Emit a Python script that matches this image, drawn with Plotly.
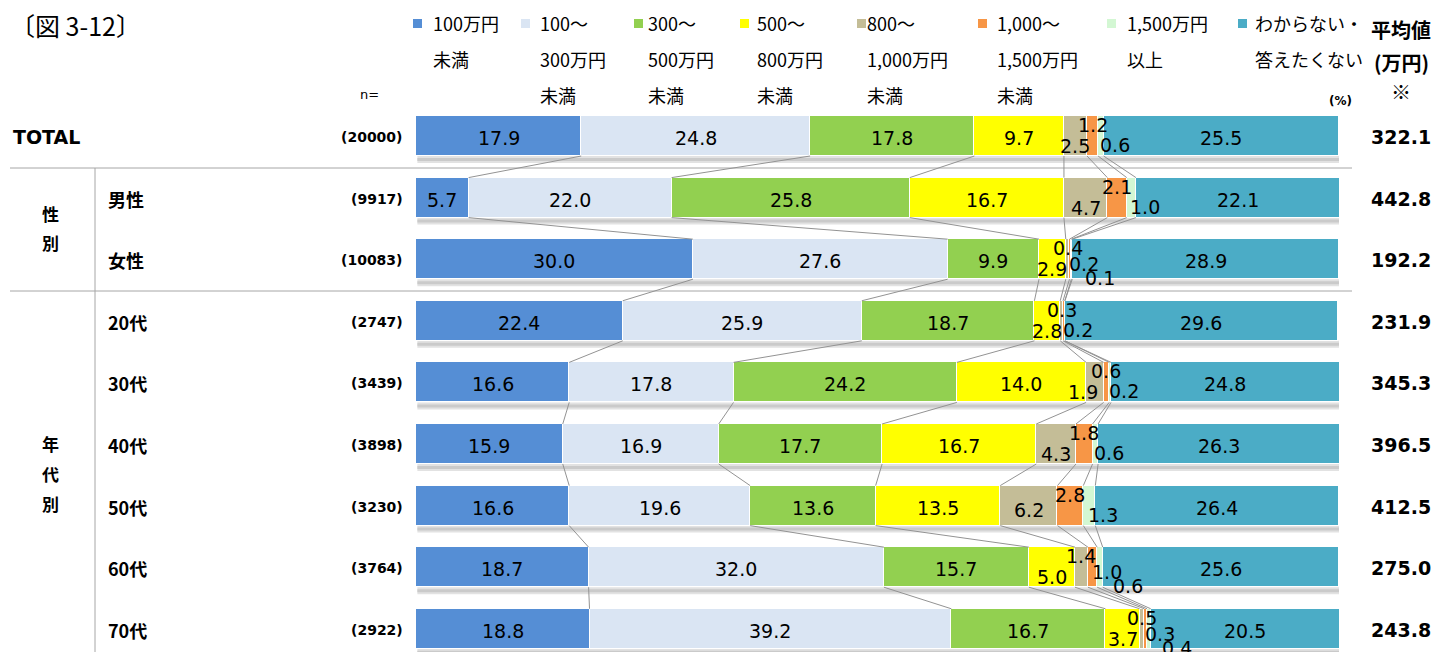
import plotly.graph_objects as go

W, H = 1434, 652

# ---- data -------------------------------------------------------------
ROWS = ["TOTAL", "男性", "女性", "20代", "30代", "40代", "50代", "60代", "70代"]
N_SIZES = ["(20000)", "(9917)", "(10083)", "(2747)", "(3439)", "(3898)",
           "(3230)", "(3764)", "(2922)"]
MEANS = ["322.1", "442.8", "192.2", "231.9", "345.3", "396.5", "412.5",
         "275.0", "243.8"]

BANDS = ["100万円未満", "100～300万円未満", "300～500万円未満", "500～800万円未満",
         "800～1,000万円未満", "1,000～1,500万円未満", "1,500万円以上",
         "わからない・答えたくない"]
LEGEND_LINES = [["100万円", "未満"], ["100～", "300万円", "未満"],
                ["300～", "500万円", "未満"], ["500～", "800万円", "未満"],
                ["800～", "1,000万円", "未満"], ["1,000～", "1,500万円", "未満"],
                ["1,500万円", "以上"], ["わからない・", "答えたくない"]]

under_100 = [17.9, 5.7, 30.0, 22.4, 16.6, 15.9, 16.6, 18.7, 18.8]
from_100_300 = [24.8, 22.0, 27.6, 25.9, 17.8, 16.9, 19.6, 32.0, 39.2]
from_300_500 = [17.8, 25.8, 9.9, 18.7, 24.2, 17.7, 13.6, 15.7, 16.7]
from_500_800 = [9.7, 16.7, 2.9, 2.8, 14.0, 16.7, 13.5, 5.0, 3.7]
from_800_1000 = [2.5, 4.7, 0.4, 0.3, 1.9, 4.3, 6.2, 1.4, 0.5]
from_1000_1500 = [1.2, 2.1, 0.2, 0.2, 0.6, 1.8, 2.8, 1.0, 0.3]
over_1500 = [0.6, 1.0, 0.1, 0.0, 0.2, 0.6, 1.3, 0.6, 0.4]
no_answer = [25.5, 22.1, 28.9, 29.6, 24.8, 26.3, 26.4, 25.6, 20.5]

SERIES = [under_100, from_100_300, from_300_500, from_500_800,
          from_800_1000, from_1000_1500, over_1500, no_answer]
COLORS = ["#558ED5", "#DAE5F3", "#92D050", "#FFFF00", "#C4BD97",
          "#F79646", "#D3F7D3", "#4BACC6"]

# ---- geometry helpers ---------------------------------------------------
X0_PX, X1_PX = 416, 1339          # plot area left/right in pixels
ROW0_PX, ROW_STEP = 136.0, 61.6   # first bar centre and row pitch
BAR_W = 0.65
Y_TOP = -ROW0_PX / ROW_STEP
Y_BOT = Y_TOP + H / ROW_STEP


def px(x):
    return x / W


def py(y):
    return 1 - y / H


def row_px(i):
    return ROW0_PX + ROW_STEP * i


JP = "Noto Sans CJK JP"
NUM = "DejaVu Sans"


def label(x, y, text, font, xanchor="left"):
    """Text placed in pixel coordinates of the page."""
    return dict(x=px(x), y=py(y), xref="paper", yref="paper", text=text,
                xanchor=xanchor, yanchor="middle", showarrow=False, font=font)


fig = go.Figure()

rows_idx = list(range(len(ROWS)))

# soft drop shadow under each bar
shapes = []
for i in rows_idx:
    base = i + BAR_W / 2
    shapes.append(dict(type="rect", xref="x", yref="y", layer="below",
                       x0=0.15, x1=100.25, y0=base, y1=base + 7 / ROW_STEP,
                       fillcolor="#E2E2E2", line_width=0))
    shapes.append(dict(type="rect", xref="x", yref="y", layer="below",
                       x0=0.15, x1=100.25, y0=base + 2 / ROW_STEP,
                       y1=base + 5 / ROW_STEP,
                       fillcolor="#CACACA", line_width=0))

# stacked bars
for name, vals, col in zip(BANDS, SERIES, COLORS):
    fig.add_trace(go.Bar(
        y=rows_idx, x=vals, name=name, orientation="h", width=BAR_W,
        marker=dict(color=col, line=dict(color="white", width=1)),
        hoverinfo="x+name", showlegend=False))

# connector lines between adjacent bars at each cumulative boundary
cum = []
for i in rows_idx:
    s, c = 0.0, []
    for vals in SERIES[:-1]:
        s += vals[i]
        c.append(s)
    cum.append(c)

lx, ly = [], []
for i in rows_idx[:-1]:
    for k in range(len(SERIES) - 1):
        lx += [cum[i][k], cum[i + 1][k], None]
        ly += [i + BAR_W / 2, i + 1 - BAR_W / 2, None]
fig.add_trace(go.Scatter(x=lx, y=ly, mode="lines", hoverinfo="skip",
                         line=dict(color="#939393", width=1),
                         showlegend=False))

annotations = []

# value labels inside bars; thin segments get staggered labels
for i in rows_idx:
    start = 0.0
    small_order = [k for k in range(3, 7) if 0 < SERIES[k][i] < 7]
    has_four = len(small_order) >= 4
    for k, vals in enumerate(SERIES):
        v = vals[i]
        mid = start + v / 2
        start += v
        if v <= 0:
            continue
        dy, dx = 2, 0
        if k in small_order:
            o = small_order.index(k)
            if o == 0:
                dy = 4 if v >= 6 else 10
                dx = -12 if v < 2.2 else 0
            elif o == 1:
                dy = -11
            elif o == 2:
                dy = 5 if has_four else 9
                dx = 14
            else:
                dy = 19
                dx = 28
        annotations.append(dict(
            x=mid, y=i, xref="x", yref="y", text=f"{v:.1f}",
            xanchor="center", yanchor="middle",
            showarrow=False, xshift=dx, yshift=-dy,
            font=dict(family=NUM, size=19, color="black")))

# row labels, sample sizes and means
for i, (lab, n, m) in enumerate(zip(ROWS, N_SIZES, MEANS)):
    y = row_px(i) + 1
    if i == 0:
        annotations.append(label(11, y, lab, dict(family=NUM, size=19,
                                                   color="black",
                                                   weight="bold")))
    else:
        annotations.append(label(106, y, lab, dict(family=JP, size=18,
                                                    color="black",
                                                    weight="bold")))
    annotations.append(label(405, y, n, dict(family=NUM, size=14,
                                              color="black", weight="bold"),
                             xanchor="right"))
    annotations.append(label(1401, y, m, dict(family=NUM, size=19,
                                               color="black", weight="bold"),
                             xanchor="center"))

# group labels written vertically
grp_font = dict(family=JP, size=17, color="black", weight="bold")
for ch, yy in zip("性別", [213, 243]):
    annotations.append(label(50, yy, ch, grp_font, xanchor="center"))
for ch, yy in zip("年代別", [443, 473, 503]):
    annotations.append(label(50, yy, ch, grp_font, xanchor="center"))

# header texts
annotations.append(label(8, 25, "〔図 3-12〕",
                         dict(family=JP, size=25, color="black")))
annotations.append(label(358, 95, "n=",
                         dict(family=NUM, size=13, color="black")))
annotations.append(label(1340, 101, "(%)",
                         dict(family=NUM, size=12, color="black",
                              weight="bold"), xanchor="center"))
for txt, yy in zip(["平均値", "(万円)", "※"], [30, 62, 92]):
    annotations.append(label(1401, yy, txt,
                             dict(family=JP, size=20, color="black",
                                  weight="bold"), xanchor="center"))

# legend drawn as coloured squares with wrapped captions
LEG_SQ_X = [413, 521, 634, 740, 857, 978, 1107, 1238]
LEG_TX_X = [431, 538, 646, 755, 865, 995, 1125, 1253]
LEG_ROW_Y = [23, 59, 95]
leg_font = dict(family=JP, size=18, color="black")
for col, sx, tx, lines in zip(COLORS, LEG_SQ_X, LEG_TX_X, LEGEND_LINES):
    shapes.append(dict(type="rect", xref="paper", yref="paper",
                       x0=px(sx), x1=px(sx + 9), y0=py(28), y1=py(19),
                       fillcolor=col, line_width=0))
    for line, yy in zip(lines, LEG_ROW_Y):
        annotations.append(label(tx, yy, line, leg_font))

# table rules
rule = dict(color="#A6A6A6", width=1)
for yy in [168, 291]:
    shapes.append(dict(type="line", xref="paper", yref="paper",
                       x0=px(10), x1=px(1352), y0=py(yy), y1=py(yy),
                       line=rule, layer="below"))
shapes.append(dict(type="line", xref="paper", yref="paper",
                   x0=px(95), x1=px(95), y0=py(168), y1=py(652),
                   line=rule, layer="below"))

fig.update_layout(
    width=W, height=H, margin=dict(l=0, r=0, t=0, b=0),
    paper_bgcolor="white", plot_bgcolor="white",
    barmode="stack", bargap=0, showlegend=False,
    xaxis=dict(domain=[px(X0_PX), px(X1_PX)], range=[0, 100],
               visible=False, fixedrange=True),
    yaxis=dict(domain=[0, 1], range=[Y_BOT, Y_TOP], visible=False,
               fixedrange=True),
    shapes=shapes, annotations=annotations,
)

fig.write_html("out.html")
